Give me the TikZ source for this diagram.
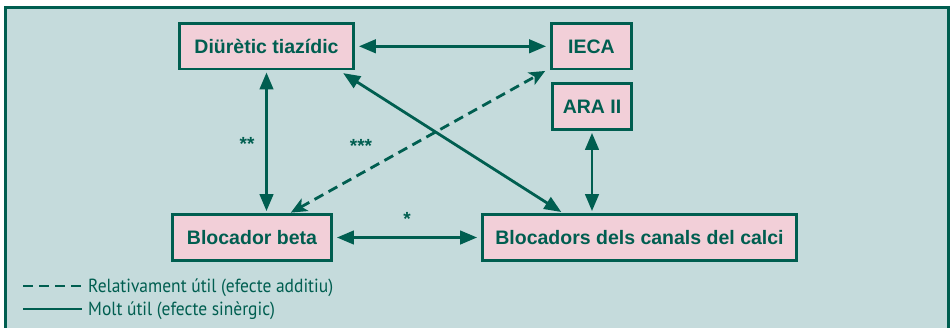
\documentclass[tikz,border=0pt]{standalone}
\usepackage{fontspec}
\setmainfont{Liberation Sans}
\newfontfamily\legendfont[FakeStretch=0.92]{PT Sans}
\usetikzlibrary{arrows.meta}
\definecolor{inkgreen}{HTML}{005E50}
\definecolor{panelbg}{HTML}{C5DBDC}
\definecolor{boxpink}{HTML}{F2CFD8}
\begin{document}
\begin{tikzpicture}[x=1pt,y=-1pt,
  drug/.style={draw=inkgreen, fill=boxpink, line width=2.8pt, text=inkgreen,
    font=\fontsize{19.5}{22}\selectfont\bfseries, inner sep=0pt, outer sep=1.4pt},
  link/.style={draw=inkgreen, line width=2.8pt,
    {Triangle[length=17pt,width=13.5pt]}-{Triangle[length=17pt,width=13.5pt]},
    shorten >=2pt, shorten <=2pt},
  weaklink/.style={draw=inkgreen, line width=2.8pt, dash pattern=on 10pt off 6pt,
    {Stealth[length=16pt,width=14pt,inset=4pt]}-{Stealth[length=16pt,width=14pt,inset=4pt]}},
  stars/.style={text=inkgreen, font=\fontsize{19}{22}\selectfont\bfseries, inner sep=0pt},
  legendtext/.style={text=inkgreen, font=\legendfont\fontsize{19}{22}\selectfont, anchor=base west, inner sep=0pt},
  legendline/.style={draw=inkgreen, line width=2.8pt}
]
\useasboundingbox (0,0) rectangle (950,327);
\fill[white] (0,0) rectangle (950,327);
% panel
\draw[inkgreen, fill=panelbg, line width=2.8pt] (5.3,7.2) rectangle (948.3,345);

% drug classes
\node[drug, minimum width=174pt, minimum height=45.5pt] (diur) at (266.5,46.3) {Diürètic tiazídic};
\node[drug, minimum width=80pt, minimum height=45.5pt] (ieca) at (591.5,46.3) {IECA};
\node[drug, minimum width=79pt, minimum height=46pt] (ara) at (592,106.5) {ARA II};
\node[drug, minimum width=159pt, minimum height=46pt] (beta) at (252,237.5) {Blocador beta};
\node[drug, minimum width=314pt, minimum height=46pt] (canals) at (639.5,237.5) {Blocadors dels canals del calci};

% combinations
\draw[link, shorten >=4pt, shorten <=4pt] (diur) -- (ieca);
\draw[link] (diur.south) -- (diur.south |- beta.north);
\draw[link, shorten <=5pt] ([xshift=-16pt]diur.south east) -- ([xshift=-76.5pt]canals.north);
\draw[weaklink, shorten >=1pt, shorten <=1pt] ([xshift=38pt]beta.north) -- ([xshift=-4pt]ieca.south west);
\draw[link] (ara.south) -- (ara.south |- canals.north);
\draw[link, shorten >=4pt, shorten <=4pt] (beta) -- (canals);

% significance marks
\node[stars] (s2) at (247,144) {**};
\node[stars] (s3) at (361,146) {***};
\node[stars] (s1) at (407,219) {*};

% legend
\node[legendtext] (legweak) at (88,292) {Relativament útil (efecte additiu)};
\node[legendtext] (legstrong) at (88,315.5) {Molt útil (efecte sinèrgic)};
\coordinate (weakA) at (23,286);
\coordinate (strongA) at (23,309);
\draw[legendline, dash pattern=on 10pt off 6pt] (weakA) -- ([xshift=-6pt]weakA -| legweak.west);
\draw[legendline] (strongA) -- ([xshift=-6pt]strongA -| legstrong.west);
\end{tikzpicture}
\end{document}
